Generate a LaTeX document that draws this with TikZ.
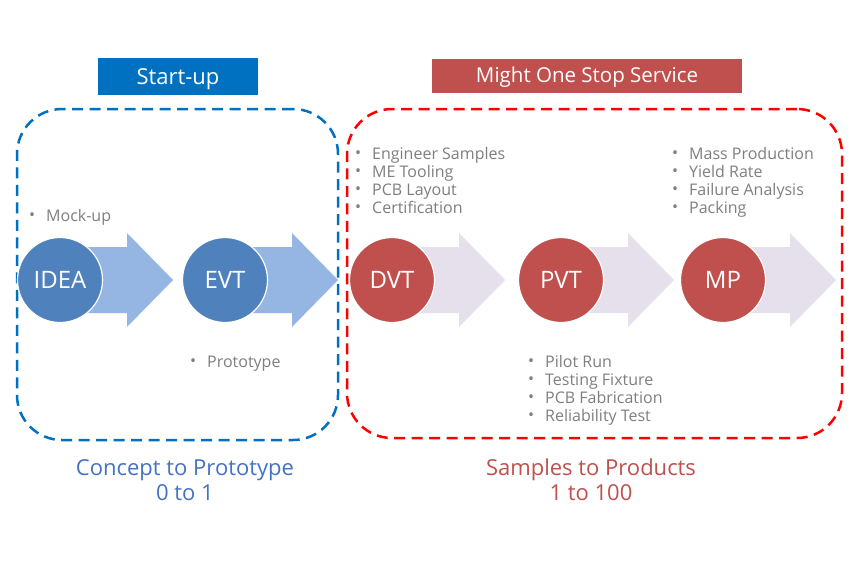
\documentclass[tikz,border=0pt]{standalone}
\usepackage{fontspec}
\setmainfont{Open Sans}
\usepackage{xcolor}
\usetikzlibrary{positioning}
\definecolor{startblue}{RGB}{0,112,192}
\definecolor{stageblue}{RGB}{79,129,189}
\definecolor{arrowblue}{RGB}{149,182,226}
\definecolor{stagered}{RGB}{192,80,77}
\definecolor{arrowlav}{RGB}{230,224,236}
\definecolor{dashred}{RGB}{255,0,0}
\definecolor{notegray}{RGB}{127,127,127}
\definecolor{conceptblue}{RGB}{68,114,196}
\newcommand{\bul}{\makebox[17pt][l]{\raisebox{0.5pt}{\fontsize{16}{16}\selectfont\textbullet}}}

\begin{document}
\begin{tikzpicture}[
    x=1pt, y=-1pt,
    titlebox/.style={rectangle, inner sep=0pt, text=white, font=\fontsize{22}{24}\selectfont, text height=15.7pt, text depth=0pt},
    frame/.style={rectangle, draw, line width=2.5pt, dash pattern=on 11pt off 6.5pt, rounded corners=45pt, inner sep=0pt},
    stage/.style={circle, draw=white, line width=1.2pt, minimum size=85pt, inner sep=0pt, text=white, font=\fontsize{24}{26}\selectfont, text height=17pt, text depth=0pt},
    bluestage/.style={stage, fill=stageblue},
    redstage/.style={stage, fill=stagered},
    notes/.style={anchor=base west, align=left, inner sep=0pt, text=notegray, font=\fontsize{16}{18}\selectfont},
    phase/.style={anchor=base, align=center, inner sep=0pt, font=\fontsize{22}{25}\selectfont}
]
\useasboundingbox[fill=white] (0,0) rectangle (850,560);

% Titles
\node[titlebox, fill=startblue, minimum width=160pt, minimum height=37pt] (startup) at (178,76.5) {Start-up};
\node[titlebox, fill=stagered, minimum width=310pt, minimum height=34pt, font=\fontsize{20.5}{22}\selectfont, text height=14.6pt] (service) at (587,75.5) {Might One Stop Service};

% Frames
\node[frame, draw=startblue, minimum width=321pt, minimum height=331pt] (startframe) at (177.5,274.5) {};
\node[frame, draw=dashred, minimum width=495pt, minimum height=329pt] (serviceframe) at (594.5,273.5) {};

% Arrows behind the stages
\foreach \cx/\col in {60/arrowblue, 225/arrowblue, 392/arrowlav, 561/arrowlav, 723/arrowlav}
  \fill[\col] (\cx,247) -- (\cx+67,247) -- (\cx+67,233) -- (\cx+113,280)
    -- (\cx+67,327) -- (\cx+67,313) -- (\cx,313) -- cycle;

% Stages
\node[bluestage] (idea) at (60,280) {IDEA};
\node[bluestage] (evt) at (225,280) {EVT};
\node[redstage] (dvt) at (392,280) {DVT};
\node[redstage] (pvt) at (561,280) {PVT};
\node[redstage] (mp) at (723,280) {MP};

% Notes (base = last line)
\node[notes] (ideanotes) at (29,221) {\bul Mock-up};
\node[notes] (evtnotes) at (190,367) {\bul Prototype};
\node[notes] (dvtnotes) at (355,213) {\bul Engineer Samples\\\bul ME Tooling\\\bul PCB Layout\\\bul Certification};
\node[notes] (pvtnotes) at (528,421) {\bul Pilot Run\\\bul Testing Fixture\\\bul PCB Fabrication\\\bul Reliability Test};
\node[notes] (mpnotes) at (672,213) {\bul Mass Production\\\bul Yield Rate\\\bul Failure Analysis\\\bul Packing};

% Phases
\node[phase, text=conceptblue] (concept) at (185,500) {Concept to Prototype\\0 to 1};
\node[phase, text=stagered] (samples) at (591,500) {Samples to Products\\1 to 100};

\end{tikzpicture}
\end{document}
